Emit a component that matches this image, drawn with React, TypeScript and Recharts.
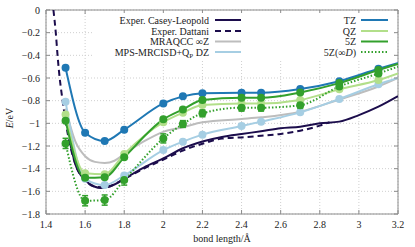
import { LineChart, Line, XAxis, YAxis, CartesianGrid, ReferenceArea, ErrorBar } from 'recharts';

// potential energy curves, E in eV vs bond length in Angstrom
const xTicks = [1.4, 1.6, 1.8, 2, 2.2, 2.4, 2.6, 2.8, 3, 3.2];
const yTicks = [0, -0.2, -0.4, -0.6, -0.8, -1, -1.2, -1.4, -1.6, -1.8];

// points where the calculations were done
const calcX = [1.5, 1.6, 1.7, 1.8, 2.0, 2.1, 2.2, 2.4, 2.5, 2.7, 2.9, 3.1, 3.2];
const tzE = [-0.51, -1.083, -1.156, -1.056, -0.824, -0.762, -0.735, -0.73, -0.73, -0.697, -0.628, -0.518, -0.468];
const qzE = [-0.921, -1.44, -1.45, -1.27, -0.99, -0.906, -0.838, -0.824, -0.824, -0.794, -0.7, -0.618, -0.559];
const fiveZE = [-0.977, -1.48, -1.475, -1.3, -0.965, -0.877, -0.794, -0.774, -0.774, -0.727, -0.645, -0.53, -0.475];
const infDE = [-1.177, -1.683, -1.677, -1.5, -1.133, -1.006, -0.912, -0.862, -0.862, -0.84, -0.675, -0.56, -0.5];
const infDErr = [0.045, 0.045, 0.045, 0.045, 0.04, 0.03, 0.03, 0.03, 0.03, 0.03, 0.02, 0.02, 0];
const mpsE = [-0.809, -1.49, -1.545, -1.46, -1.236, -1.162, -1.1, -1.024, -0.985, -0.903, -0.785, -0.655, -0.6];

// MRAQCC extrapolated curve (no markers)
const mraqccX = [1.5, 1.55, 1.6, 1.65, 1.7, 1.75, 1.8, 1.9, 2.0, 2.1, 2.2, 2.4, 2.5, 2.7, 2.9, 3.1, 3.2];
const mraqccE = [-0.87, -1.16, -1.29, -1.34, -1.35, -1.33, -1.27, -1.16, -1.075, -1.035, -0.99, -0.962, -0.947, -0.897, -0.79, -0.675, -0.6];

// experimental curves
const caseyX = [1.52, 1.55, 1.6, 1.65, 1.68, 1.7, 1.75, 1.8, 1.9, 2.0, 2.1, 2.2, 2.3, 2.4, 2.5, 2.6, 2.7, 2.8, 2.9, 3.0, 3.1, 3.2];
const caseyE = [-1.15, -1.36, -1.5, -1.56, -1.57, -1.565, -1.54, -1.49, -1.39, -1.31, -1.22, -1.16, -1.12, -1.094, -1.07, -1.044, -1.03, -1.0, -0.985, -0.927, -0.853, -0.76];
const dattaniX = [1.438, 1.45, 1.46, 1.47, 1.485, 1.5, 1.55, 1.6, 1.65, 1.7, 1.8, 1.9, 2.0, 2.1, 2.2, 2.3, 2.4, 2.5, 2.6, 2.7, 2.8, 2.85];
const dattaniE = [0, -0.2, -0.42, -0.6, -0.8, -0.98, -1.36, -1.5, -1.56, -1.565, -1.49, -1.4, -1.32, -1.24, -1.18, -1.135, -1.124, -1.11, -1.094, -1.065, -1.02, -0.99];

const PLOT = { left: 46, right: 398, top: 10, bottom: 214 };
const FONT = '"Liberation Serif", "DejaVu Serif", serif';
const FRAME = '#8c8c8c';

const C = {
  navy: '#1c0d4c',
  gray: '#bdbdbd',
  mps: '#a6cee3',
  tz: '#1f78b4',
  qz: '#b2df8a',
  fiveZ: '#33a02c',
};

const rows = (xs: number[], ys: number[], errs?: number[]) =>
  xs.map((x, i) => ({ x, e: ys[i], err: errs ? errs[i] : 0 }));

const fmtY = (v: number) => (v === 0 ? '0' : '\u2212' + String(Math.abs(Math.round(v * 10) / 10)));

const YTick = ({ y, payload }: any) => (
  <g>
    <text x={PLOT.left - 6} y={y} dy={3.5} textAnchor="end" fontSize={10} fontFamily={FONT} fill="#222">
      {fmtY(payload.value)}
    </text>
    <line x1={PLOT.left} x2={PLOT.left + 4} y1={y} y2={y} stroke={FRAME} />
    <line x1={PLOT.right - 4} x2={PLOT.right} y1={y} y2={y} stroke={FRAME} />
  </g>
);

const XTick = ({ x, payload }: any) => (
  <g>
    <text x={x} y={PLOT.bottom + 14} textAnchor="middle" fontSize={10} fontFamily={FONT} fill="#222">
      {String(Math.round(payload.value * 10) / 10)}
    </text>
    <line x1={x} x2={x} y1={PLOT.bottom} y2={PLOT.bottom - 4} stroke={FRAME} />
    <line x1={x} x2={x} y1={PLOT.top} y2={PLOT.top + 4} stroke={FRAME} />
  </g>
);

const makeDot = (color: string, r = 4) => (props: any) => {
  const { cx, cy, payload, index } = props;
  if (payload.x > 3.15) return <g key={`d-${color}-${index}`} />;
  return <circle key={`d-${color}-${index}`} cx={cx} cy={cy} r={r} fill={color} stroke="none" />;
};

export default function App() {
  const leftRows = [
    { y: 20, label: 'Exper. Casey-Leopold', color: C.navy, dash: undefined },
    { y: 31, label: 'Exper. Dattani', color: C.navy, dash: '6 4' },
    { y: 41.5, label: 'MRAQCC', color: C.gray, dash: undefined },
    { y: 52, label: 'MPS', color: C.mps, dash: undefined },
  ];
  const rightRows = [
    { y: 20, color: C.tz, dash: undefined },
    { y: 31, color: C.qz, dash: undefined },
    { y: 41.5, color: C.fiveZ, dash: undefined },
    { y: 52, color: C.fiveZ, dash: '1.5 2' },
  ];

  return (
    <div style={{ position: 'absolute', left: 0, top: 0, width: 415, height: 247, background: '#fff' }}>
      <LineChart width={415} height={247} margin={{ top: PLOT.top, right: 415 - PLOT.right, bottom: 0, left: 0 }}>
        <CartesianGrid stroke="#cfcfcf" strokeDasharray="1 2" />
        <XAxis
          type="number"
          dataKey="x"
          domain={[1.4, 3.2]}
          ticks={xTicks}
          interval={0}
          allowDataOverflow
          height={247 - PLOT.bottom}
          axisLine={false}
          tickLine={false}
          tick={<XTick />}
        />
        <YAxis
          type="number"
          dataKey="e"
          domain={[-1.8, 0]}
          ticks={yTicks}
          interval={0}
          allowDataOverflow
          width={PLOT.left}
          axisLine={false}
          tickLine={false}
          tick={<YTick />}
        />

        {/* experiment */}
        <Line data={rows(dattaniX, dattaniE)} dataKey="e" type="monotone" stroke={C.navy} strokeWidth={2} strokeDasharray="6 4" dot={false} isAnimationActive={false} />
        <Line data={rows(caseyX, caseyE)} dataKey="e" type="monotone" stroke={C.navy} strokeWidth={2} dot={false} isAnimationActive={false} />

        {/* theory */}
        <Line data={rows(mraqccX, mraqccE)} dataKey="e" type="monotone" stroke={C.gray} strokeWidth={2} dot={false} isAnimationActive={false} />
        <Line data={rows(calcX, mpsE)} dataKey="e" type="monotone" stroke={C.mps} strokeWidth={2} dot={makeDot(C.mps)} isAnimationActive={false} />
        <Line data={rows(calcX, tzE)} dataKey="e" type="monotone" stroke={C.tz} strokeWidth={2} dot={makeDot(C.tz)} isAnimationActive={false} />
        <Line data={rows(calcX, qzE)} dataKey="e" type="monotone" stroke={C.qz} strokeWidth={2} dot={makeDot(C.qz)} isAnimationActive={false} />
        <Line data={rows(calcX, fiveZE)} dataKey="e" type="monotone" stroke={C.fiveZ} strokeWidth={2} dot={makeDot(C.fiveZ)} isAnimationActive={false} />
        <Line data={rows(calcX, infDE, infDErr)} dataKey="e" type="monotone" stroke={C.fiveZ} strokeWidth={2} strokeDasharray="1.5 2" dot={makeDot(C.fiveZ)} isAnimationActive={false}>
          <ErrorBar dataKey="err" direction="y" width={3} stroke={C.fiveZ} strokeWidth={1.5} isAnimationActive={false} />
        </Line>

        <ReferenceArea x1={1.4} x2={3.2} y1={-1.8} y2={0} fill="none" stroke={FRAME} strokeWidth={1} ifOverflow="visible" />
      </LineChart>

      <svg width={415} height={247} style={{ position: 'absolute', left: 0, top: 0, pointerEvents: 'none' }}>
        <rect x={92} y={13} width={301} height={46} fill="#fff" />
        {leftRows.map((r, i) => (
          <line key={`ll${i}`} x1={215} x2={241} y1={r.y} y2={r.y} stroke={r.color} strokeWidth={2} strokeDasharray={r.dash} />
        ))}
        {rightRows.map((r, i) => (
          <line key={`rl${i}`} x1={361} x2={388} y1={r.y} y2={r.y} stroke={r.color} strokeWidth={2} strokeDasharray={r.dash} />
        ))}
        <g fontFamily={FONT} fontSize={10} fill="#222" textAnchor="end">
          <text x={209} y={23.5}>Exper. Casey-Leopold</text>
          <text x={209} y={34.5}>Exper. Dattani</text>
          <text x={209} y={45}>MRAQCC ∞Z</text>
          <text x={209} y={55.5}>
            MPS-MRCISD+Q<tspan fontSize={7} dy={2}>P</tspan>
            <tspan dy={-2}> DZ</tspan>
          </text>
          <text x={356} y={23.5}>TZ</text>
          <text x={356} y={34.5}>QZ</text>
          <text x={356} y={45}>5Z</text>
          <text x={356} y={55.5}>
            5Z(∞<tspan fontStyle="italic">D</tspan>)
          </text>
        </g>
        <text x={222} y={242} textAnchor="middle" fontFamily={FONT} fontSize={10} fill="#222">
          bond length/Å
        </text>
        <text transform="translate(13,118) rotate(-90)" textAnchor="middle" fontFamily={FONT} fontSize={10} fill="#222">
          <tspan fontStyle="italic">E</tspan>/eV
        </text>
      </svg>
    </div>
  );
}
